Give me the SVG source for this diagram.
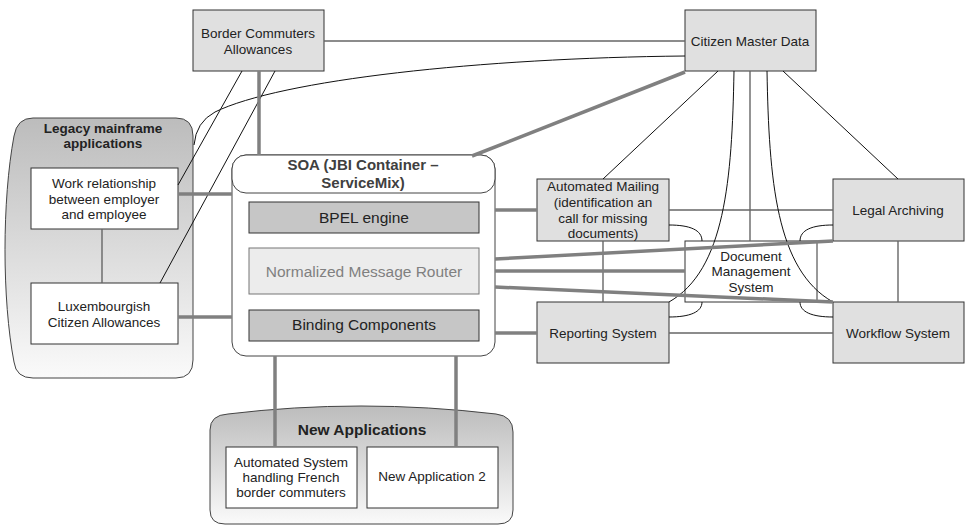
<svg xmlns="http://www.w3.org/2000/svg" width="965" height="527" viewBox="0 0 965 527">
  <defs>
    <linearGradient id="groupFill" x1="0" y1="0" x2="0" y2="1">
      <stop offset="0" stop-color="#bcbcbc"/>
      <stop offset="1" stop-color="#fafafa"/>
    </linearGradient>
    <style>
      text { font-family: "Liberation Sans", Arial, sans-serif; fill: #222; text-anchor: middle; }
      .box { fill: #e0e0e0; stroke: #333; stroke-width: 1; }
      .plain { fill: #fff; stroke: #333; stroke-width: 1; }
      .grp { fill: url(#groupFill); stroke: #444; stroke-width: 1; }
      .lbl { font-size: 13.5px; }
      .title { font-size: 13.5px; font-weight: bold; }
      .big { font-size: 15.5px; }
      .comp { stroke: #333; stroke-width: 1; }
      .thick { fill: none; stroke: #808080; stroke-width: 3.5; }
      .mid { fill: none; stroke: #666; stroke-width: 1.4; }
      .thin { fill: none; stroke: #111; stroke-width: 1; }
    </style>
  </defs>

  <!-- Legacy mainframe group -->
  <g id="legacy">
    <path class="grp" d="M33,118 L176,118 Q193,118 193,136 L193,360 Q193,378 176,378 L33,378 Q16,378 14,362 C2,300 2,200 14,136 Q17,118 33,118 Z"/>
    <text class="title" x="103" y="133">Legacy mainframe</text>
    <text class="title" x="103" y="148">applications</text>
  </g>
  <g id="work-relationship">
    <rect class="plain" x="31" y="168" width="147" height="61"/>
    <text class="lbl" x="104" y="188">Work relationship</text>
    <text class="lbl" x="104" y="204">between employer</text>
    <text class="lbl" x="104" y="219">and employee</text>
  </g>
  <g id="lux-allowances">
    <rect class="plain" x="31" y="283" width="147" height="61"/>
    <text class="lbl" x="104" y="311">Luxembourgish</text>
    <text class="lbl" x="104" y="327">Citizen Allowances</text>
  </g>

  <!-- New applications group -->
  <g id="new-apps">
    <path class="grp" d="M210,430 Q210,415 228,414 Q360,398 496,414 Q513,416 513,432 L513,510 Q513,524 498,524 L225,524 Q210,524 210,510 Z"/>
    <text x="362" y="434.5" style="font-size:15.5px;font-weight:bold">New Applications</text>
  </g>
  <g id="french-commuters">
    <rect class="plain" x="226" y="447" width="131" height="61"/>
    <text class="lbl" x="291" y="467">Automated System</text>
    <text class="lbl" x="291" y="482">handling French</text>
    <text class="lbl" x="291" y="497">border commuters</text>
  </g>
  <g id="new-app-2">
    <rect class="plain" x="367" y="447" width="131" height="61"/>
    <text class="lbl" x="432" y="481">New Application 2</text>
  </g>

  <!-- SOA container -->
  <g id="soa">
    <rect x="232" y="155" width="263" height="201" rx="14" fill="#fff" stroke="#444"/>
    <rect x="232" y="155" width="263" height="38" rx="14" fill="#fff" stroke="#444"/>
    <text x="363" y="170" style="font-size:15px;font-weight:bold;fill:#404040">SOA (JBI Container –</text>
    <text x="363" y="188" style="font-size:15px;font-weight:bold;fill:#404040">ServiceMix)</text>
  </g>
  <g id="bpel">
    <rect class="comp" x="249" y="202" width="230" height="31" fill="#c6c6c6"/>
    <text class="big" x="364" y="222.5">BPEL engine</text>
  </g>
  <g id="nmr">
    <rect x="249" y="248" width="230" height="46" fill="#ececec" stroke="#777"/>
    <text class="big" x="364" y="276.5" style="fill:#808080">Normalized Message Router</text>
  </g>
  <g id="binding">
    <rect class="comp" x="249" y="310" width="230" height="31" fill="#c6c6c6"/>
    <text class="big" x="364" y="329.5">Binding Components</text>
  </g>

  <!-- Top systems -->
  <g id="border-commuters">
    <rect class="box" x="193" y="10" width="131" height="61"/>
    <text class="lbl" x="258" y="38">Border Commuters</text>
    <text class="lbl" x="258" y="54">Allowances</text>
  </g>
  <g id="citizen-master-data">
    <rect class="box" x="685" y="10" width="131" height="61"/>
    <text class="lbl" x="750" y="46">Citizen Master Data</text>
  </g>

  <!-- Right-hand systems -->
  <g id="automated-mailing">
    <rect class="box" x="537" y="179" width="132" height="62"/>
    <text class="lbl" x="603" y="191">Automated Mailing</text>
    <text class="lbl" x="603" y="207">(identification an</text>
    <text class="lbl" x="603" y="223">call for missing</text>
    <text class="lbl" x="603" y="238">documents)</text>
  </g>
  <g id="reporting">
    <rect class="box" x="537" y="302" width="132" height="61"/>
    <text class="lbl" x="603" y="338">Reporting System</text>
  </g>
  <g id="legal-archiving">
    <rect class="box" x="833" y="179" width="131" height="62"/>
    <text class="lbl" x="898" y="215">Legal Archiving</text>
  </g>
  <g id="workflow">
    <rect class="box" x="833" y="302" width="131" height="61"/>
    <text class="lbl" x="898" y="338">Workflow System</text>
  </g>
  <g id="document-management">
    <rect x="685" y="241" width="132" height="61" fill="none" stroke="#333"/>
    <text class="lbl" x="751" y="261">Document</text>
    <text class="lbl" x="751" y="276">Management</text>
    <text class="lbl" x="751" y="292">System</text>
  </g>

  <!-- Connectors -->
  <g id="connectors">
    <!-- medium grey links -->
    <line class="mid" x1="324" y1="41" x2="685" y2="41"/>
    <line class="mid" x1="669" y1="210" x2="833" y2="210"/>
    <line class="mid" x1="669" y1="333" x2="833" y2="333"/>
    <line class="mid" x1="603" y1="241" x2="603" y2="302"/>
    <line class="mid" x1="898" y1="241" x2="898" y2="302"/>
    <line class="mid" x1="102" y1="229" x2="102" y2="283"/>
    <line class="mid" x1="750" y1="71" x2="750" y2="241"/>

    <!-- thin links -->
    <path class="thin" d="M685,56 C480,58 280,80 215,112 Q196,122 194,145"/>
    <line class="thin" x1="242" y1="71" x2="178" y2="185"/>
    <line class="thin" x1="275" y1="71" x2="160" y2="283"/>
    <line class="thin" x1="718" y1="71" x2="603" y2="179"/>
    <line class="thin" x1="783" y1="71" x2="898" y2="179"/>
    <path class="thin" d="M734,71 C732,180 725,270 669,302"/>
    <path class="thin" d="M767,71 C769,180 776,270 833,302"/>
    <path class="thin" d="M669,225 C690,225 702,230 702,241"/>
    <path class="thin" d="M669,317 C690,317 702,312 702,302"/>
    <path class="thin" d="M833,225 C812,225 800,230 800,241"/>
    <path class="thin" d="M833,317 C812,317 800,312 800,302"/>

    <!-- thick bus links -->
    <line class="thick" x1="259" y1="71" x2="259" y2="155"/>
    <line class="thick" x1="685" y1="72" x2="472" y2="156"/>
    <line class="thick" x1="178" y1="194" x2="232" y2="194"/>
    <line class="thick" x1="178" y1="317" x2="232" y2="317"/>
    <line class="thick" x1="495" y1="210" x2="537" y2="210"/>
    <line class="thick" x1="495" y1="259" x2="833" y2="241"/>
    <line class="thick" x1="495" y1="271" x2="685" y2="271"/>
    <line class="thick" x1="495" y1="287" x2="833" y2="302"/>
    <line class="thick" x1="495" y1="333" x2="537" y2="333"/>
    <line class="thick" x1="275" y1="356" x2="275" y2="447"/>
    <line class="thick" x1="456" y1="356" x2="456" y2="447"/>
  </g>
</svg>
